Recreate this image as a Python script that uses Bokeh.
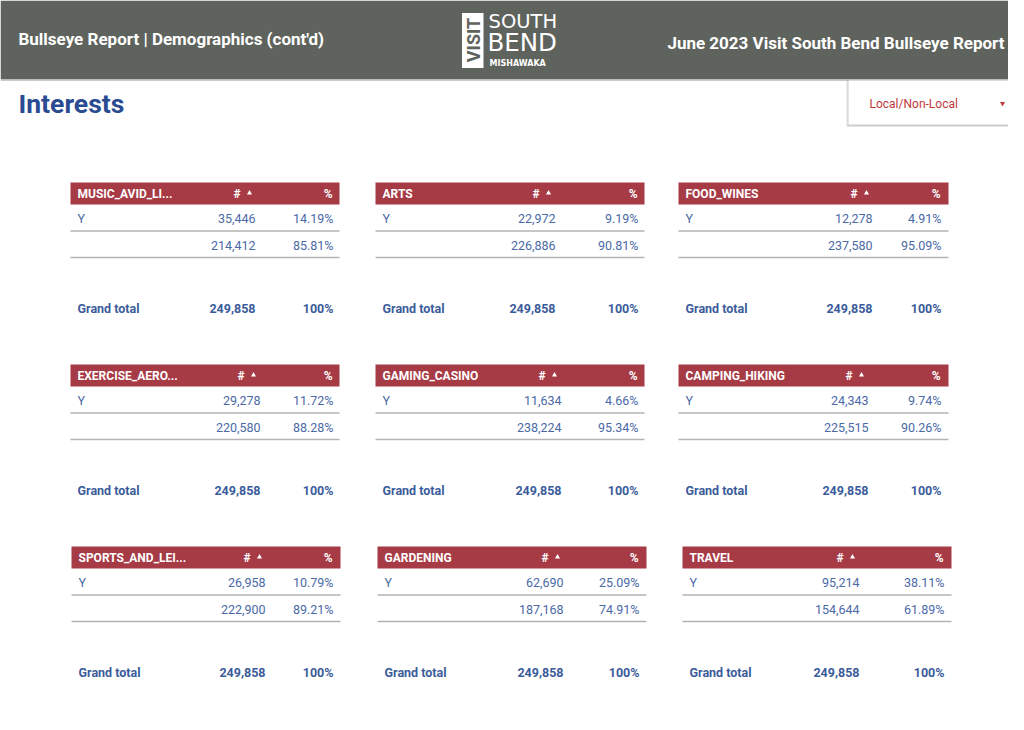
from bokeh.plotting import figure
from bokeh.models import Range1d, ColumnDataSource
from bokeh.core.properties import value
from bokeh.embed import file_html
from bokeh.resources import INLINE
import math

# ---------------- data ----------------
categories = ["MUSIC_AVID_LI...", "ARTS", "FOOD_WINES",
              "EXERCISE_AERO...", "GAMING_CASINO", "CAMPING_HIKING",
              "SPORTS_AND_LEI...", "GARDENING", "TRAVEL"]
row_labels = ["Y", ""]
y_counts = [35446, 22972, 12278, 29278, 11634, 24343, 26958, 62690, 95214]
other_counts = [214412, 226886, 237580, 220580, 238224, 225515, 222900, 187168, 154644]
y_pct = [14.19, 9.19, 4.91, 11.72, 4.66, 9.74, 10.79, 25.09, 38.11]
other_pct = [85.81, 90.81, 95.09, 88.28, 95.34, 90.26, 89.21, 74.91, 61.89]
grand_totals = [249858] * 9
grand_pct = ["100%"] * 9

# ---------------- layout (pixel positions) ----------------
tbl_left = [70, 375, 678, 70, 375, 678, 71, 377, 682]
tbl_right = [339, 644, 948, 339, 644, 948, 340, 646, 951]
tbl_top = [182, 182, 182, 364, 364, 364, 546, 546, 546]
hash_x = [233, 532, 850, 237, 538, 845, 243, 541, 836]
num_right = [255, 555, 872, 260, 561, 868, 265, 563, 859]
pct_right = [333, 638, 941, 333, 638, 941, 333, 639, 944]

FONT = value("Roboto")
LOGO_FONT = value("DejaVu Sans")
HEADER_BG = "#5f635d"
RED = "#a63b46"
ROW_BLUE = "#4a69a6"
TOT_BLUE = "#3b5c9b"
TITLE_BLUE = "#2a4b91"

W, H = 1008, 714
p = figure(width=W, height=H, output_backend="svg", toolbar_location=None,
           x_range=Range1d(0, W), y_range=Range1d(H, 0),
           min_border=0, min_border_left=0, min_border_right=0,
           min_border_top=0, min_border_bottom=0)
p.axis.visible = False
p.grid.visible = False
p.outline_line_color = None
p.background_fill_color = "white"
p.border_fill_color = "white"

# header band
p.quad(left=[0], right=[W], top=[0], bottom=[79], fill_color=HEADER_BG, line_color=None)
p.quad(left=[0], right=[W], top=[79], bottom=[80.5], fill_color="#c9c9c9", line_color=None)

p.text(x=[18], y=[38], text=["Bullseye Report | Demographics (cont'd)"], text_font=FONT,
       text_font_size="17px", text_font_style="bold", text_color="white",
       text_align="left", text_baseline="middle")
p.text(x=[1004], y=[42], text=["June 2023 Visit South Bend Bullseye Report"], text_font=FONT,
       text_font_size="17px", text_font_style="bold", text_color="white",
       text_align="right", text_baseline="middle")

# logo
p.quad(left=[461.5], right=[483], top=[12.5], bottom=[67.5], fill_color="white", line_color=None)
p.text(x=[472.5], y=[39.5], text=["VISIT"], angle=[math.pi / 2], text_font=FONT,
       text_font_size="18px", text_font_style="bold", text_color=HEADER_BG,
       text_align="center", text_baseline="middle")
p.text(x=[488], y=[20.5], text=["SOUTH"], text_font=LOGO_FONT, text_font_size="19.5px",
       text_color="white", text_align="left", text_baseline="middle")
p.text(x=[487], y=[41.5], text=["BEND"], text_font=LOGO_FONT, text_font_size="24.5px",
       text_color="white", text_align="left", text_baseline="middle")
p.text(x=[489], y=[62.5], text=["MISHAWAKA"], text_font=LOGO_FONT, text_font_size="8px",
       text_font_style="bold", text_color="white", text_align="left", text_baseline="middle")

# title
p.text(x=[18], y=[103], text=["Interests"], text_font=FONT, text_font_size="26.5px",
       text_font_style="bold", text_color=TITLE_BLUE, text_align="left", text_baseline="middle")

# dropdown
p.quad(left=[846], right=[W], top=[80], bottom=[126.5], fill_color="#000000",
       fill_alpha=0.10, line_color=None)
p.quad(left=[847], right=[W], top=[80], bottom=[125.5], fill_color="#000000",
       fill_alpha=0.10, line_color=None)
p.quad(left=[848], right=[W], top=[80], bottom=[124], fill_color="white", line_color=None)
p.text(x=[869], y=[103], text=["Local/Non-Local"], text_font=FONT, text_font_size="12px",
       text_color="#c0393b", text_align="left", text_baseline="middle")
p.scatter(x=[1002], y=[103], marker="inverted_triangle", size=5, fill_color="#c0393b",
          line_color=None)

# tables
hdr = dict(left=[], right=[], top=[], bottom=[])
lines = dict(x0=[], x1=[], y=[])
for i in range(9):
    t = tbl_top[i]
    hdr["left"].append(tbl_left[i]); hdr["right"].append(tbl_right[i])
    hdr["top"].append(t); hdr["bottom"].append(t + 22)
    for off in (48.5, 75):
        lines["x0"].append(tbl_left[i]); lines["x1"].append(tbl_right[i])
        lines["y"].append(t + off)

p.quad(source=ColumnDataSource(hdr), left="left", right="right", top="top", bottom="bottom",
       fill_color=RED, line_color=None)
p.segment(x0=lines["x0"], x1=lines["x1"], y0=lines["y"], y1=lines["y"],
          line_color="#b3b3b3", line_width=1.5)

# header texts
name_x = [l + 7 for l in tbl_left]
hdr_y = [t + 11 for t in tbl_top]
p.text(x=name_x, y=hdr_y, text=categories, text_font=FONT, text_font_size="12px",
       text_font_style="bold", text_color="white", text_align="left", text_baseline="middle")
p.text(x=hash_x, y=hdr_y, text=["#"] * 9, text_font=FONT, text_font_size="12px",
       text_font_style="bold", text_color="white", text_align="left", text_baseline="middle")
p.scatter(x=[h + 16 for h in hash_x], y=[y - 0.5 for y in hdr_y], marker="triangle", size=5,
          fill_color="white", line_color=None)
p.text(x=[r - 1 for r in pct_right], y=hdr_y, text=["%"] * 9, text_font=FONT,
       text_font_size="12px", text_font_style="bold", text_color="white",
       text_align="right", text_baseline="middle")

def fmt(n):
    return f"{n:,}"

r1_y = [t + 36 for t in tbl_top]
r2_y = [t + 62.5 for t in tbl_top]
gt_y = [t + 125.5 for t in tbl_top]

row_style = dict(text_font=FONT, text_font_size="12.5px", text_color=ROW_BLUE,
                 text_baseline="middle")
p.text(x=name_x, y=r1_y, text=[row_labels[0]] * 9, text_align="left", **row_style)
p.text(x=num_right, y=r1_y, text=[fmt(v) for v in y_counts], text_align="right", **row_style)
p.text(x=pct_right, y=r1_y, text=[f"{v:.2f}%" for v in y_pct], text_align="right", **row_style)
p.text(x=num_right, y=r2_y, text=[fmt(v) for v in other_counts], text_align="right", **row_style)
p.text(x=pct_right, y=r2_y, text=[f"{v:.2f}%" for v in other_pct], text_align="right", **row_style)

tot_style = dict(text_font=FONT, text_font_size="12.5px", text_font_style="bold",
                 text_color=TOT_BLUE, text_baseline="middle")
p.text(x=name_x, y=gt_y, text=["Grand total"] * 9, text_align="left", **tot_style)
p.text(x=num_right, y=gt_y, text=[fmt(v) for v in grand_totals], text_align="right", **tot_style)
p.text(x=pct_right, y=gt_y, text=grand_pct, text_align="right", **tot_style)

open("out.html", "w").write(file_html(p, INLINE))
